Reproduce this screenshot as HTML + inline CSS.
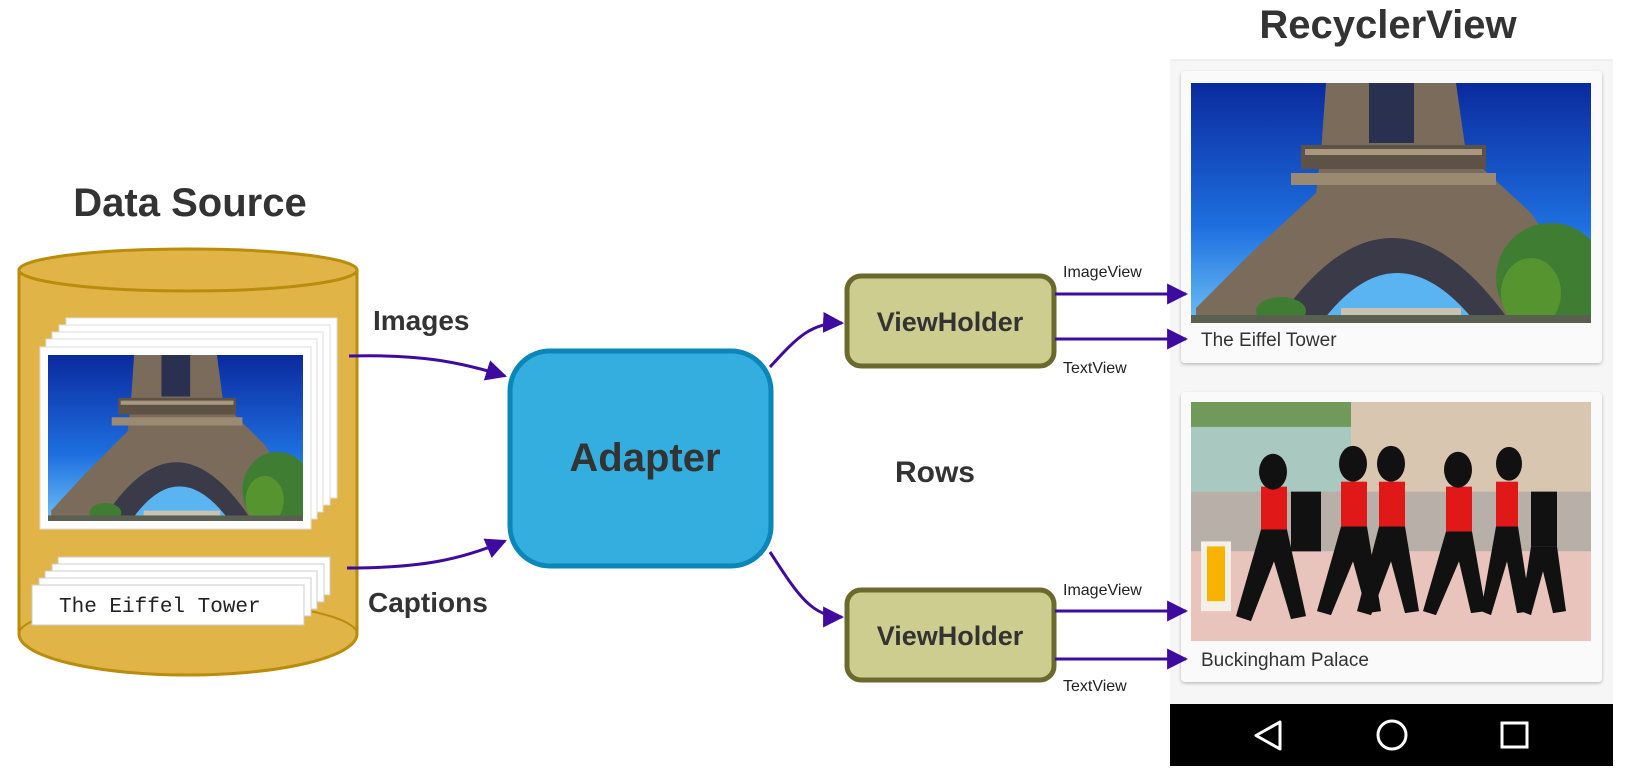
<!DOCTYPE html>
<html><head><meta charset="utf-8"><style>
html,body{margin:0;padding:0;background:#fff;}
svg{display:block;}
text{font-family:"Liberation Sans",sans-serif;}
</style></head><body>
<svg width="1626" height="773" viewBox="0 0 1626 773" xmlns="http://www.w3.org/2000/svg">
<defs>
 <linearGradient id="sky" x1="0" y1="0" x2="0" y2="1">
  <stop offset="0" stop-color="#0a2a9e"/><stop offset="0.6" stop-color="#1e6fe0"/><stop offset="1" stop-color="#6cc0f4"/>
 </linearGradient>
 <symbol id="eiffel" viewBox="0 0 400 240" preserveAspectRatio="none">
  <rect width="400" height="240" fill="url(#sky)"/>
  <polygon points="135,0 265,0 275,70 340,130 395,210 395,240 5,240 5,225 60,170 125,110 130,70" fill="#7b6b5a"/>
  <rect x="110" y="62" width="185" height="24" fill="#5e5246"/>
  <rect x="114" y="66" width="177" height="6" fill="#a89880"/>
  <rect x="100" y="90" width="205" height="12" fill="#9a8a72"/>
  <rect x="178" y="0" width="45" height="60" fill="#2a3050"/>
  <path d="M85 240 Q200 70 320 240 Z" fill="#3a3a48"/>
  <path d="M130 240 Q205 140 285 240 Z" fill="#5ab4f2"/>
  <rect x="150" y="225" width="120" height="15" fill="#c8c2b0"/>
  <ellipse cx="360" cy="195" rx="55" ry="55" fill="#3f7e32"/>
  <ellipse cx="340" cy="210" rx="30" ry="35" fill="#56942f"/>
  <ellipse cx="90" cy="228" rx="25" ry="14" fill="#3f7e32"/>
  <rect x="0" y="232" width="400" height="8" fill="#5a6050"/>
 </symbol>
 <symbol id="guards" viewBox="0 0 400 240" preserveAspectRatio="none">
  <rect width="400" height="240" fill="#e4d4c4"/>
  <rect x="0" y="0" width="160" height="40" fill="#6f9a5a"/>
  <rect x="0" y="25" width="160" height="75" fill="#a8c8c0"/>
  <rect x="160" y="0" width="240" height="90" fill="#d8c6b0"/>
  <rect x="0" y="90" width="400" height="60" fill="#b8b0a8"/>
  <rect x="0" y="150" width="400" height="90" fill="#e8c4bc"/>
  <g fill="#e01818">
   <rect x="70" y="85" width="26" height="45"/><rect x="150" y="80" width="26" height="45"/>
   <rect x="188" y="80" width="26" height="45"/><rect x="255" y="85" width="26" height="45"/>
   <rect x="305" y="80" width="22" height="45"/>
  </g>
  <g fill="#111">
   <ellipse cx="82" cy="70" rx="14" ry="18"/><ellipse cx="162" cy="62" rx="14" ry="18"/>
   <ellipse cx="200" cy="62" rx="14" ry="18"/><ellipse cx="267" cy="68" rx="14" ry="18"/>
   <ellipse cx="318" cy="62" rx="13" ry="17"/>
   <polygon points="70,128 96,128 115,215 100,218 83,160 60,220 45,215"/>
   <polygon points="150,125 176,125 190,210 176,212 162,160 140,214 126,210"/>
   <polygon points="188,125 214,125 228,210 214,212 200,160 180,214 166,210"/>
   <polygon points="255,130 281,130 295,210 280,212 268,160 245,214 232,210"/>
   <polygon points="305,125 327,125 340,210 326,212 316,160 300,214 290,210"/>
   <rect x="100" y="90" width="30" height="60"/><rect x="340" y="90" width="26" height="55"/>
   <polygon points="340,145 366,145 375,210 362,212 352,170 340,214 330,210"/>
  </g>
  <rect x="10" y="140" width="30" height="70" fill="#f4f0e8"/>
  <rect x="16" y="145" width="18" height="55" fill="#f7b300"/>
 </symbol>
 <marker id="ar" viewBox="0 0 10 10" refX="9" refY="5" markerWidth="7" markerHeight="7" orient="auto" markerUnits="strokeWidth">
  <path d="M0 0 L10 5 L0 10 Z" fill="#3f0aa0"/>
 </marker>
 <filter id="sh" x="-5%" y="-5%" width="110%" height="110%"><feDropShadow dx="0" dy="1.5" stdDeviation="1.5" flood-color="#000" flood-opacity="0.25"/></filter>
</defs>

<!-- Data Source -->
<text x="190" y="216" font-size="40" font-weight="bold" fill="#333" text-anchor="middle">Data Source</text>
<path d="M19 270 L19 634 A169 41 0 0 0 357 634 L357 270 Z" fill="#e1b447" stroke="#b98c0c" stroke-width="3"/>
<ellipse cx="188" cy="270" rx="169" ry="21" fill="#e1b447" stroke="#b98c0c" stroke-width="3"/>
<path d="M19 634 A169 33 0 0 1 357 634" fill="none" stroke="#b98c0c" stroke-width="2"/>
<g fill="#fff" stroke="#ddd" stroke-width="1">
 <rect x="66" y="318" width="271" height="180"/>
 <rect x="59" y="325" width="271" height="180"/>
 <rect x="52" y="332" width="271" height="180"/>
 <rect x="46" y="339" width="271" height="180"/>
 <rect x="40" y="347" width="271" height="182"/>
</g>
<use href="#eiffel" x="48" y="355" width="255" height="166"/>
<g fill="#fff" stroke="#ccc" stroke-width="1">
 <rect x="58" y="557" width="272" height="38"/>
 <rect x="52" y="564" width="272" height="38"/>
 <rect x="45" y="571" width="272" height="38"/>
 <rect x="39" y="578" width="272" height="38"/>
 <rect x="32" y="585" width="272" height="40"/>
</g>
<text x="59" y="612" font-size="21" fill="#222" style="font-family:'Liberation Mono',monospace">The Eiffel Tower</text>

<text x="373" y="330" font-size="28" font-weight="bold" fill="#333">Images</text>
<text x="368" y="612" font-size="28" font-weight="bold" fill="#333">Captions</text>

<path d="M349 356 C420 354 460 362 505 376" fill="none" stroke="#3f0aa0" stroke-width="3" marker-end="url(#ar)"/>
<path d="M347 568 C420 568 460 560 505 541" fill="none" stroke="#3f0aa0" stroke-width="3" marker-end="url(#ar)"/>

<rect x="510" y="351" width="261" height="215" rx="40" fill="#33aedf" stroke="#0a86b8" stroke-width="5"/>
<text x="645" y="471" font-size="40" font-weight="bold" fill="#333" text-anchor="middle">Adapter</text>

<text x="935" y="482" font-size="30" font-weight="bold" fill="#333" text-anchor="middle">Rows</text>

<rect x="847" y="276" width="207" height="90" rx="14" fill="#cccd8e" stroke="#6b6a2e" stroke-width="5"/>
<text x="950" y="331" font-size="27" font-weight="bold" fill="#333" text-anchor="middle">ViewHolder</text>
<rect x="847" y="590" width="207" height="90" rx="14" fill="#cccd8e" stroke="#6b6a2e" stroke-width="5"/>
<text x="950" y="645" font-size="27" font-weight="bold" fill="#333" text-anchor="middle">ViewHolder</text>

<path d="M770 367 C795 340 810 322 842 323" fill="none" stroke="#3f0aa0" stroke-width="3" marker-end="url(#ar)"/>
<path d="M770 552 C795 590 810 617 842 617" fill="none" stroke="#3f0aa0" stroke-width="3" marker-end="url(#ar)"/>

<g font-size="16" fill="#222">
 <text x="1063" y="277">ImageView</text>
 <text x="1063" y="373">TextView</text>
 <text x="1063" y="595">ImageView</text>
 <text x="1063" y="691">TextView</text>
</g>

<!-- RecyclerView -->
<text x="1388" y="38" font-size="40" font-weight="bold" fill="#333" text-anchor="middle">RecyclerView</text>
<rect x="1170" y="60" width="443" height="645" fill="#f6f6f6"/>
<line x1="1170" y1="60" x2="1613" y2="60" stroke="#e4e4e4"/>
<rect x="1181" y="71" width="421" height="292" rx="4" fill="#fafafa" filter="url(#sh)"/>
<use href="#eiffel" x="1191" y="83" width="400" height="240"/>
<text x="1201" y="346" font-size="19" fill="#333">The Eiffel Tower</text>
<rect x="1181" y="392" width="421" height="290" rx="4" fill="#fafafa" filter="url(#sh)"/>
<use href="#guards" x="1191" y="402" width="400" height="239"/>
<text x="1201" y="666" font-size="19" fill="#333">Buckingham Palace</text>

<g stroke="#3f0aa0" stroke-width="3" marker-end="url(#ar)">
 <line x1="1055" y1="294" x2="1186" y2="294"/>
 <line x1="1055" y1="339" x2="1186" y2="339"/>
 <line x1="1055" y1="611" x2="1186" y2="611"/>
 <line x1="1055" y1="659" x2="1186" y2="659"/>
</g>

<rect x="1170" y="704" width="443" height="62" fill="#000"/>
<path d="M1280 722 L1280 749 L1256 735.5 Z" fill="none" stroke="#fff" stroke-width="3" stroke-linejoin="round"/>
<circle cx="1392" cy="735" r="14" fill="none" stroke="#fff" stroke-width="3"/>
<rect x="1502" y="723" width="25" height="24" fill="none" stroke="#fff" stroke-width="3"/>
</svg>
</body></html>
